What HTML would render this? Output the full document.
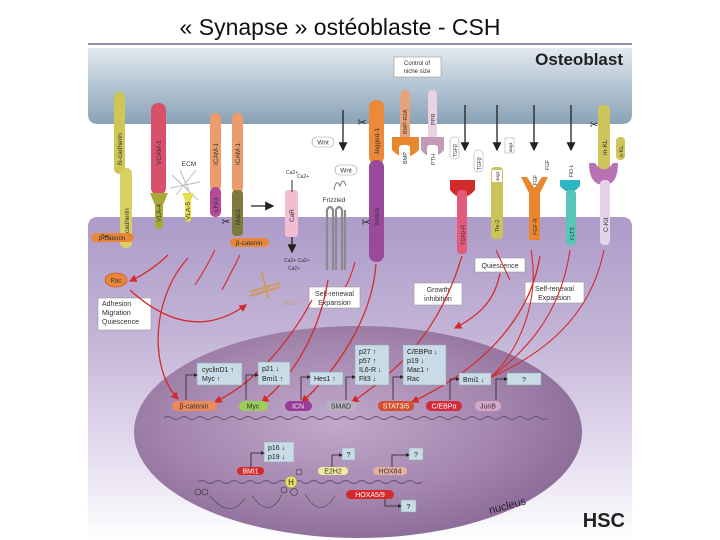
<!DOCTYPE html>
<html><head><meta charset="utf-8"><style>
html,body{margin:0;padding:0;background:#fff;width:720px;height:540px;overflow:hidden}
svg{display:block;font-family:"Liberation Sans",sans-serif}
</style></head><body>
<svg width="720" height="540" viewBox="0 0 720 540" xmlns="http://www.w3.org/2000/svg">
<defs>
<linearGradient id="ob" x1="0" y1="0" x2="0" y2="1"><stop offset="0" stop-color="#e4eaf0"/><stop offset="0.45" stop-color="#b8c8d6"/><stop offset="1" stop-color="#8aa2b6"/></linearGradient>
<linearGradient id="hsc" x1="0" y1="0" x2="0" y2="1"><stop offset="0" stop-color="#ad9bc9"/><stop offset="0.35" stop-color="#c2b3d6"/><stop offset="0.75" stop-color="#e6def0"/><stop offset="1" stop-color="#ffffff"/></linearGradient>
<radialGradient id="nuc" cx="0.45" cy="0.45" r="0.6"><stop offset="0" stop-color="#c2a8cc"/><stop offset="0.6" stop-color="#a486ae"/><stop offset="1" stop-color="#8a6a96"/></radialGradient>
<marker id="ra" markerWidth="6" markerHeight="6" refX="5" refY="3" orient="auto"><path d="M0,0 L6,3 L0,6 z" fill="#d42a2a"/></marker>
<marker id="ba" markerWidth="5" markerHeight="5" refX="4" refY="2.5" orient="auto"><path d="M0,0 L5,2.5 L0,5 z" fill="#222"/></marker>
<marker id="bb" markerWidth="7" markerHeight="7" refX="6" refY="3.5" orient="auto"><path d="M0,0 L7,3.5 L0,7 z" fill="#222"/></marker>
</defs>

<text x="340" y="35" text-anchor="middle" font-size="23" fill="#111">« Synapse » ostéoblaste - CSH</text>
<line x1="88" y1="44" x2="632" y2="44" stroke="#6a6f9e" stroke-width="1.5"/>

<path d="M88,48 H632 V114 Q632,124 622,124 H98 Q88,124 88,114 Z" fill="url(#ob)"/>
<text x="623" y="65" text-anchor="end" font-size="17" font-weight="bold" fill="#222">Osteoblast</text>
<path d="M88,227 Q88,217 98,217 H622 Q632,217 632,227 V540 H88 Z" fill="url(#hsc)"/>
<ellipse cx="358" cy="432" rx="224" ry="106" fill="url(#nuc)"/>
<text x="625" y="527" text-anchor="end" font-size="20" font-weight="bold" fill="#222">HSC</text>
<text x="490" y="514" font-size="11" fill="#2a1a30" transform="rotate(-15 490 514)">nucleus</text>

<g font-size="6.5" fill="#333">
<rect x="114" y="92" width="11" height="82" rx="5" fill="#cfc655"/>
<rect x="120" y="168" width="12" height="80" rx="5" fill="#d8d060"/>
<text transform="translate(122,165) rotate(-90)">N-cadherin</text>
<text transform="translate(129,240) rotate(-90)">N-cadherin</text>
<rect x="91" y="233" width="43" height="9" rx="4.5" fill="#e8873a"/>
<text x="112" y="240" text-anchor="middle">β-catenin</text>
<rect x="151" y="103" width="15" height="92" rx="7" fill="#d9506a"/>
<text transform="translate(161,165) rotate(-90)">VCAM-1</text>
<path d="M150,193 H168 L163,205 V227 Q159,231 155,227 V205 Z" fill="#a9a93a"/>
<text transform="translate(161,222) rotate(-90)">VLA-4</text>
<text x="189" y="166" text-anchor="middle">ECM</text>
<path d="M172,175 L198,200 M176,195 L196,170 M180,170 L192,198 M170,188 L200,182" stroke="#bbb" stroke-width="1"/>
<path d="M182,193 H194 L191,200 V220 Q188,224 185,220 V200 Z" fill="#e6e04a"/>
<text transform="translate(190,220) rotate(-90)">VLA-5</text>
<rect x="210" y="113" width="11" height="78" rx="5" fill="#ec9b6a"/>
<text transform="translate(218,165) rotate(-90)">ICAM-1</text>
<rect x="210" y="187" width="11" height="30" rx="5" fill="#b64a9a"/>
<text transform="translate(218,212) rotate(-90)">LFA1</text>
<rect x="232" y="113" width="11" height="80" rx="5" fill="#ec9b6a"/>
<text transform="translate(240,165) rotate(-90)">ICAM-1</text>
<rect x="232" y="190" width="11" height="46" rx="4" fill="#7f7a3a"/>
<text transform="translate(240,225) rotate(-90)">Mac1</text>
<rect x="230" y="238" width="39" height="9" rx="4.5" fill="#e8873a"/>
<text x="249" y="245" text-anchor="middle">β-catenin</text>
<line x1="251" y1="206" x2="273" y2="206" stroke="#222" stroke-width="1.3" marker-end="url(#bb)"/>
<rect x="285" y="190" width="13" height="47" rx="3" fill="#f2bcd2"/>
<text transform="translate(294,222) rotate(-90)">CaR</text>
<line x1="292" y1="180" x2="292" y2="192" stroke="#333"/>
<text x="286" y="174" font-size="5">Ca2+</text><text x="297" y="178" font-size="5">Ca2+</text>
<line x1="292" y1="237" x2="292" y2="252" stroke="#222" stroke-width="1.3" marker-end="url(#bb)"/>
<text x="284" y="262" font-size="5">Ca2+ Ca2+</text><text x="288" y="270" font-size="5">Ca2+</text>
<text x="334" y="202" text-anchor="middle">Frizzled</text>
<path d="M327,270 V210 Q330,204 333,210 V270 M336,270 V210 Q339,204 342,210 V270 M345,270 V210" stroke="#8a8a8a" stroke-width="2.2" fill="none"/>
<path d="M334,190 Q336,178 340,186 Q343,176 346,186" stroke="#777" fill="none"/>
<rect x="312" y="137" width="22" height="10" rx="5" fill="#fff" stroke="#999" stroke-width=".6"/><text x="323" y="144.5" text-anchor="middle">Wnt</text>
<rect x="335" y="165" width="22" height="10" rx="5" fill="#fff" stroke="#999" stroke-width=".6"/><text x="346" y="172.5" text-anchor="middle">Wnt</text>
<line x1="343" y1="110" x2="343" y2="150" stroke="#222" stroke-width="1.3" marker-end="url(#bb)"/>
<rect x="369" y="100" width="15" height="64" rx="7" fill="#ec8a3a"/>
<text transform="translate(379,155) rotate(-90)">Jagged-1</text>
<rect x="369" y="160" width="15" height="102" rx="7" fill="#9a4a9a"/>
<text transform="translate(379,225) rotate(-90)">Notch</text>
<text x="362" y="126" font-size="11" text-anchor="middle" fill="#222">✂</text>
<text x="366" y="226" font-size="11" text-anchor="middle" fill="#222">✂</text>
<text x="106" y="240" font-size="10" text-anchor="middle" fill="#222">✂</text>
<text x="226" y="225" font-size="10" text-anchor="middle" fill="#222">✂</text>
<text x="594" y="128" font-size="10" text-anchor="middle" fill="#222">✂</text>
<rect x="394" y="57" width="47" height="20" fill="#fff" stroke="#999" stroke-width=".6"/>
<text x="417" y="65" text-anchor="middle" font-size="6">Control of</text><text x="417" y="73" text-anchor="middle" font-size="6">niche size</text>
<rect x="400" y="90" width="10" height="50" rx="5" fill="#e6a27a"/>
<text transform="translate(407,134) rotate(-90)" font-size="5.5">BMP-R2A</text>
<path d="M392,137 H419 V150 Q405,164 392,150 Z" fill="#e8872e"/>
<rect x="399" y="145" width="11" height="22" rx="3" fill="#fff"/><text transform="translate(407,164) rotate(-90)" font-size="5.5">BMP</text>
<rect x="428" y="90" width="9" height="50" rx="4" fill="#e9d2e2"/>
<text transform="translate(435,125) rotate(-90)" font-size="5.5">PPR</text>
<path d="M421,137 H444 V150 Q432,164 421,150 Z" fill="#c29ab4"/>
<rect x="427" y="145" width="11" height="22" rx="3" fill="#fff"/><text transform="translate(435,165) rotate(-90)" font-size="5.5">PTH</text>
<line x1="465" y1="105" x2="465" y2="150" stroke="#222" stroke-width="1.3" marker-end="url(#bb)"/>
<rect x="450" y="137" width="9" height="22" rx="4" fill="#fff" stroke="#999" stroke-width=".5"/><text transform="translate(457,157) rotate(-90)" font-size="5">TGFβ</text>
<rect x="474" y="150" width="9" height="22" rx="4" fill="#fff" stroke="#999" stroke-width=".5"/><text transform="translate(481,170) rotate(-90)" font-size="5">TGFβ</text>
<path d="M450,180 H475 V190 Q462,205 450,190 Z" fill="#d22b2b"/>
<rect x="457" y="190" width="10" height="64" rx="4" fill="#e35a7a"/>
<text transform="translate(465,245) rotate(-90)" font-size="5.5">TGFβ-R</text>
<line x1="497" y1="105" x2="497" y2="150" stroke="#222" stroke-width="1.3" marker-end="url(#bb)"/>
<rect x="491" y="167" width="12" height="72" rx="4" fill="#c9c45a"/>
<text transform="translate(499,232) rotate(-90)" font-size="5.5">Tie-2</text>
<rect x="492" y="170" width="10" height="12" fill="#fff"/><text transform="translate(499,181) rotate(-90)" font-size="4.5">ang1</text>
<rect x="505" y="138" width="9" height="15" fill="#fff" stroke="#999" stroke-width=".5"/><text transform="translate(512,152) rotate(-90)" font-size="4.5">ang1</text>
<line x1="534" y1="105" x2="534" y2="150" stroke="#222" stroke-width="1.3" marker-end="url(#bb)"/>
<path d="M521,177 L529,193 V240 H540 V193 L548,177 L542,177 L534.5,188 L527,177 Z" fill="#e8872e"/>
<text transform="translate(537,235) rotate(-90)" font-size="5.5">FGF-R</text>
<text transform="translate(537,185) rotate(-90)" font-size="5">FGF</text>
<text transform="translate(549,170) rotate(-90)" font-size="5">FGF</text>
<line x1="571" y1="105" x2="571" y2="150" stroke="#222" stroke-width="1.3" marker-end="url(#bb)"/>
<path d="M560,180 H580 V186 Q570,198 560,186 Z" fill="#2bb6c2"/>
<rect x="566" y="190" width="10" height="55" rx="4" fill="#57c6b8"/>
<text transform="translate(574,240) rotate(-90)" font-size="5.5">FLT3</text>
<rect x="565" y="155" width="11" height="24" fill="#fff"/><text transform="translate(573,177) rotate(-90)" font-size="5">FlO-L</text>
<rect x="598" y="105" width="12" height="68" rx="5" fill="#cdc45a"/>
<text transform="translate(607,155) rotate(-90)">m-KL</text>
<path d="M589,163 H595 Q604,176 613,163 H618 Q618,185 604,185 Q589,185 589,163 Z" fill="#b872b4"/>
<rect x="600" y="180" width="10" height="65" rx="4" fill="#e6d2ea"/>
<text transform="translate(608,232) rotate(-90)">C-Kit</text>
<rect x="616" y="137" width="9" height="23" rx="4" fill="#cdc45a"/>
<text transform="translate(623,157) rotate(-90)" font-size="5.5">s-KL</text>
</g>

<g font-size="7" fill="#333">
<ellipse cx="116" cy="280" rx="11" ry="7" fill="#e8873a" stroke="#d04020" stroke-width=".6"/>
<text x="116" y="282.5" text-anchor="middle" font-size="6">Rac</text>
<rect x="98" y="298" width="53" height="32" fill="#fff" stroke="#999" stroke-width=".6"/>
<text x="102" y="306">Adhesion</text><text x="102" y="315">Migration</text><text x="102" y="324">Quiescence</text>
<path d="M250,292 L280,283 M250,296 L280,287 M262,272 L268,298" stroke="#d09a5a" stroke-width="2"/>
<text x="283" y="305" fill="#c99a7a">actin</text>
<rect x="309" y="287" width="51" height="21" fill="#fff" stroke="#999" stroke-width=".6"/>
<text x="334.5" y="296" text-anchor="middle">Self-renewal</text><text x="334.5" y="305" text-anchor="middle">Expansion</text>
<rect x="414" y="283" width="48" height="22" fill="#fff" stroke="#999" stroke-width=".6"/>
<text x="438" y="292" text-anchor="middle">Growth</text><text x="438" y="301" text-anchor="middle">inhibition</text>
<rect x="475" y="258" width="50" height="14" fill="#fff" stroke="#999" stroke-width=".6"/>
<text x="500" y="268" text-anchor="middle">Quiescence</text>
<rect x="525" y="282" width="59" height="21" fill="#fff" stroke="#999" stroke-width=".6"/>
<text x="554.5" y="291" text-anchor="middle">Self-renewal</text><text x="554.5" y="300" text-anchor="middle">Expansion</text>
</g>

<g stroke="#d42a2a" stroke-width="1.3" fill="none" marker-end="url(#ra)">
<path d="M168,255 Q150,272 130,281"/>
<path d="M130,290 Q190,345 246,305"/>
<path d="M188,258 C150,300 150,370 178,399"/>
<path d="M312,300 C285,350 250,385 215,402"/>
<path d="M328,280 C320,330 295,375 262,402"/>
<path d="M376,264 C372,320 335,372 302,402"/>
<path d="M462,256 C440,330 400,370 352,402"/>
<path d="M500,273 C495,300 480,315 455,328"/>
<path d="M540,256 C530,320 480,370 412,402"/>
</g>
<g stroke="#d42a2a" stroke-width="1.1" fill="none">
<path d="M496,250 Q505,270 510,280"/>
<path d="M531,250 C540,300 520,350 490,378"/>
<path d="M570,250 C560,320 520,355 490,378"/>
<path d="M604,250 C590,320 540,355 490,378"/>
<path d="M215,250 Q205,270 195,285"/>
<path d="M240,255 Q230,275 222,290"/>
<path d="M355,262 Q350,280 345,287"/>
</g>

<g font-size="7" fill="#222">
<rect x="197" y="363" width="45" height="22" fill="#c8dbe6" stroke="#8aa" stroke-width=".5"/>
<text x="202" y="372">cyclinD1 ↑</text><text x="202" y="381">Myc ↑</text>
<rect x="258" y="362" width="32" height="23" fill="#c8dbe6" stroke="#8aa" stroke-width=".5"/>
<text x="262" y="371">p21 ↓</text><text x="262" y="381">Bmi1 ↑</text>
<rect x="310" y="372" width="33" height="13" fill="#c8dbe6" stroke="#8aa" stroke-width=".5"/>
<text x="314" y="381">Hes1 ↑</text>
<rect x="355" y="345" width="34" height="40" fill="#c8dbe6" stroke="#8aa" stroke-width=".5"/>
<text x="359" y="354">p27 ↑</text><text x="359" y="363">p57 ↑</text><text x="359" y="372">IL6-R ↓</text><text x="359" y="381">Flt3 ↓</text>
<rect x="403" y="345" width="43" height="40" fill="#c8dbe6" stroke="#8aa" stroke-width=".5"/>
<text x="407" y="354">C/EBPα ↓</text><text x="407" y="363">p19 ↓</text><text x="407" y="372">Mac1 ↑</text><text x="407" y="381">Rac</text>
<rect x="459" y="373" width="32" height="12" fill="#c8dbe6" stroke="#8aa" stroke-width=".5"/>
<text x="463" y="382">Bmi1 ↓</text>
<rect x="507" y="373" width="34" height="12" fill="#c8dbe6" stroke="#8aa" stroke-width=".5"/>
<text x="524" y="382" text-anchor="middle">?</text>
</g>
<g stroke="#222" stroke-width=".8" fill="none" marker-end="url(#ba)">
<path d="M186,400 V375 H197"/><path d="M246,400 V375 H258"/><path d="M301,400 V377 H310"/>
<path d="M346,400 V377 H355"/><path d="M393,400 V377 H403"/><path d="M450,400 V379 H459"/><path d="M496,400 V379 H507"/>
</g>
<g font-size="7" text-anchor="middle">
<rect x="172" y="401" width="45" height="10" rx="5" fill="#eb8a5a"/><text x="194" y="408.5" fill="#333">β-catenin</text>
<rect x="239" y="401" width="29" height="10" rx="5" fill="#9ccc5a"/><text x="253" y="408.5" fill="#333">Myc</text>
<rect x="285" y="401" width="27" height="10" rx="5" fill="#9a3a9a"/><text x="298" y="408.5" fill="#eee">ICN</text>
<rect x="326" y="401" width="31" height="10" rx="5" fill="#b8b0bc"/><text x="341" y="408.5" fill="#333">SMAD</text>
<rect x="378" y="401" width="36" height="10" rx="5" fill="#d4502a"/><text x="396" y="408.5" fill="#fff">STAT3/5</text>
<rect x="426" y="401" width="36" height="10" rx="5" fill="#d42a3a"/><text x="444" y="408.5" fill="#fff">C/EBPα</text>
<rect x="475" y="401" width="26" height="10" rx="5" fill="#d8a8cc"/><text x="488" y="408.5" fill="#333">JunB</text>
</g>
<path d="M164,418 q4,-3 8,0 t8,0 t8,0 t8,0 t8,0 t8,0 t8,0 t8,0 t8,0 t8,0 t8,0 t8,0 t8,0 t8,0 t8,0 t8,0 t8,0 t8,0 t8,0 t8,0 t8,0 t8,0 t8,0 t8,0 t8,0 t8,0 t8,0 t8,0 t8,0 t8,0 t8,0 t8,0 t8,0 t8,0 t8,0 t8,0 t8,0 t8,0 t8,0 t8,0 t8,0 t8,0 t8,0 t8,0 t8,0 t8,0 t8,0 t8,0" stroke="#6a5070" stroke-width="1" fill="none"/>

<g font-size="7" fill="#222">
<rect x="264" y="442" width="30" height="20" fill="#c8dbe6" stroke="#8aa" stroke-width=".5"/>
<text x="268" y="450">p16 ↓</text><text x="268" y="459">p19 ↓</text>
<rect x="342" y="448" width="13" height="12" fill="#c8dbe6" stroke="#8aa" stroke-width=".5"/><text x="348.5" y="457" text-anchor="middle">?</text>
<rect x="409" y="448" width="14" height="12" fill="#c8dbe6" stroke="#8aa" stroke-width=".5"/><text x="416" y="457" text-anchor="middle">?</text>
<rect x="401" y="500" width="15" height="12" fill="#c8dbe6" stroke="#8aa" stroke-width=".5"/><text x="408.5" y="509" text-anchor="middle">?</text>
</g>
<g stroke="#222" stroke-width=".8" fill="none" marker-end="url(#ba)">
<path d="M251,467 V453 H264"/><path d="M332,467 V455 H342"/><path d="M392,467 V455 H409"/><path d="M385,498 V506 H401"/>
</g>
<g font-size="7" text-anchor="middle">
<rect x="237" y="467" width="27" height="8" rx="4" fill="#d42a2a"/><text x="250.5" y="473.5" fill="#fff">BMI1</text>
<rect x="318" y="467" width="30" height="8" rx="4" fill="#f0eaa0"/><text x="333" y="473.5" fill="#333">E2H2</text>
<rect x="373" y="467" width="34" height="8" rx="4" fill="#e8b0a0"/><text x="390" y="473.5" fill="#333">HOX84</text>
<rect x="346" y="490" width="48" height="9" rx="4.5" fill="#d42a2a"/><text x="370" y="497" fill="#fff">HOXA5/9</text>
</g>
<path d="M198,482 q4,-3 8,0 t8,0 t8,0 t8,0 t8,0 t8,0 t8,0 t8,0 t8,0 t8,0 t8,0 t8,0 t8,0 t8,0 t8,0 t8,0 t8,0 t8,0 t8,0 t8,0 t8,0 t8,0 t8,0 t8,0 t8,0 t8,0 t8,0 t8,0" stroke="#6a5070" stroke-width="1" fill="none"/>
<circle cx="291" cy="482" r="6" fill="#e8e060" stroke="#777" stroke-width=".5"/><text x="291" y="485" font-size="8" text-anchor="middle" fill="#222">H</text>
<g fill="none" stroke="#333" stroke-width=".6">
<circle cx="299" cy="472" r="3"/><circle cx="284" cy="490" r="3"/><circle cx="294" cy="492" r="3.5"/>
<circle cx="198" cy="492" r="3"/><circle cx="205" cy="492" r="3"/>
<path d="M210,496 Q230,520 245,498 M252,496 Q270,520 282,494 M305,494 Q320,520 335,496" stroke="#444"/>
</g>
</svg>
</body></html>
